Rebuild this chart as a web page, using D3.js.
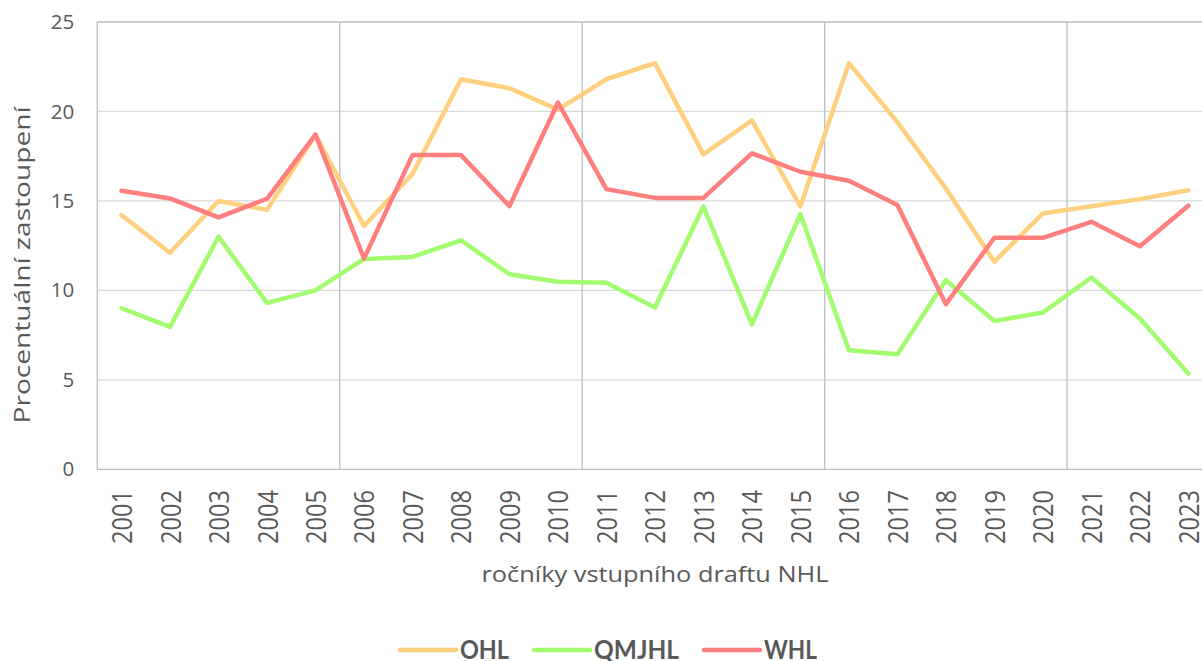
<!DOCTYPE html>
<html>
<head>
<meta charset="utf-8">
<script src="https://cdn.jsdelivr.net/npm/d3@7"></script>
<style>
  body { margin: 0; background: #fff; }
  svg { display: block; font-family: "Open Sans", sans-serif; }
</style>
</head>
<body>
<svg id="chart" width="1202" height="661"></svg>
<script>
// years of the NHL entry draft
var years = ["2001","2002","2003","2004","2005","2006","2007","2008","2009","2010","2011","2012",
             "2013","2014","2015","2016","2017","2018","2019","2020","2021","2022","2023"];

// share of drafted players per league (%)
var ohl   = [14.2, 12.1, 15.0, 14.5, 18.7, 13.6, 16.5, 21.8, 21.3, 20.1, 21.8, 22.7,
             17.6, 19.5, 14.7, 22.7, 19.4, 15.7, 11.6, 14.3, 14.7, 15.1, 15.6];
var qmjhl = [9.0, 7.96, 13.0, 9.3, 10.0, 11.76, 11.87, 12.8, 10.9, 10.48, 10.42, 9.04,
             14.7, 8.1, 14.26, 6.66, 6.43, 10.57, 8.29, 8.76, 10.72, 8.43, 5.35];
var whl   = [15.57, 15.14, 14.08, 15.12, 18.7, 11.78, 17.56, 17.56, 14.71, 20.5, 15.66, 15.17,
             15.17, 17.66, 16.63, 16.13, 14.77, 9.23, 12.94, 12.94, 13.83, 12.47, 14.73];

var seriesNames = ["OHL", "QMJHL", "WHL"];
var seriesValues = [ohl, qmjhl, whl];
var seriesColors = ["#ffd07f", "#a3fb70", "#ff7f7f"];
var yTicks = [0, 5, 10, 15, 20, 25];

var margin = { left: 97.3, top: 22 };
var plotW = 23 * 48.49;
var plotH = 447.3;

var svg = d3.select("#chart");

var x = d3.scaleBand()
  .domain(years)
  .range([margin.left, margin.left + plotW])
  .padding(0);

var y = d3.scaleLinear()
  .domain([0, 25])
  .range([margin.top + plotH, margin.top]);

// horizontal grid
svg.append("g")
  .selectAll("line")
  .data(yTicks.filter(function(d) { return d > 0 && d < 25; }))
  .enter()
  .append("line")
  .attr("x1", margin.left)
  .attr("x2", margin.left + plotW)
  .attr("y1", function(d) { return y(d); })
  .attr("y2", function(d) { return y(d); })
  .attr("stroke", "#d9d9d9")
  .attr("stroke-width", 1.3);

// vertical grid every fifth year
svg.append("g")
  .selectAll("line")
  .data(years.filter(function(d, i) { return i > 0 && i % 5 === 0; }))
  .enter()
  .append("line")
  .attr("x1", function(d) { return x(d); })
  .attr("x2", function(d) { return x(d); })
  .attr("y1", y(25))
  .attr("y2", y(0))
  .attr("stroke", "#bfbfbf")
  .attr("stroke-width", 1.3);

// frame: top, left, bottom
svg.append("path")
  .attr("d", "M" + (margin.left + plotW) + "," + y(25) + "H" + margin.left +
             "V" + y(0) + "H" + (margin.left + plotW))
  .attr("fill", "none")
  .attr("stroke", "#bfbfbf")
  .attr("stroke-width", 1.3);

// y axis labels
var yAxis = d3.axisLeft(y).tickValues(yTicks).tickSize(0).tickPadding(23);
var gy = svg.append("g")
  .attr("transform", "translate(" + margin.left + ",0)")
  .call(yAxis);
gy.select(".domain").remove();
gy.selectAll("text")
  .attr("font-family", "Open Sans")
  .attr("font-size", 20.5)
  .attr("fill", "#595959");

// x axis labels, rotated
svg.append("g")
  .selectAll("text")
  .data(years)
  .enter()
  .append("text")
  .attr("transform", function(d) {
    return "translate(" + (x(d) + x.bandwidth() / 2 + 10.5) + ",490) rotate(-90)";
  })
  .attr("text-anchor", "end")
  .attr("font-size", 28)
  .attr("textLength", 54)
  .attr("lengthAdjust", "spacingAndGlyphs")
  .attr("fill", "#595959")
  .text(function(d) { return d; });

// axis titles
svg.append("text")
  .attr("transform", "translate(30,265) rotate(-90)")
  .attr("text-anchor", "middle")
  .attr("font-size", 22)
  .attr("textLength", 317)
  .attr("lengthAdjust", "spacingAndGlyphs")
  .attr("fill", "#595959")
  .text("Procentuální zastoupení");

svg.append("text")
  .attr("x", 655)
  .attr("y", 582)
  .attr("text-anchor", "middle")
  .attr("font-size", 22)
  .attr("textLength", 347)
  .attr("lengthAdjust", "spacingAndGlyphs")
  .attr("fill", "#595959")
  .text("ročníky vstupního draftu NHL");

// lines
var line = d3.line()
  .x(function(d, i) { return x(years[i]) + x.bandwidth() / 2; })
  .y(function(d) { return y(d); });

svg.append("g")
  .selectAll("path")
  .data(seriesValues)
  .enter()
  .append("path")
  .attr("d", function(d) { return line(d); })
  .attr("fill", "none")
  .attr("stroke", function(d, i) { return seriesColors[i]; })
  .attr("stroke-width", 4.5)
  .attr("stroke-linejoin", "round")
  .attr("stroke-linecap", "round");

// legend
var legendTextW = [49, 85, 53];
var lx = 400;
seriesNames.forEach(function(name, i) {
  var g = svg.append("g").attr("transform", "translate(" + lx + ",650)");
  g.append("line")
    .attr("x1", 0).attr("x2", 56)
    .attr("y1", 0).attr("y2", 0)
    .attr("stroke", seriesColors[i])
    .attr("stroke-width", 4.5)
    .attr("stroke-linecap", "round");
  g.append("text")
    .attr("x", 60)
    .attr("y", 9)
    .attr("font-family", "Lato")
    .attr("font-size", 27)
    .attr("font-weight", "bold")
    .attr("textLength", legendTextW[i])
    .attr("lengthAdjust", "spacingAndGlyphs")
    .attr("fill", "#595959")
    .text(name);
  lx += 60 + legendTextW[i] + 25;
});
</script>
</body>
</html>
